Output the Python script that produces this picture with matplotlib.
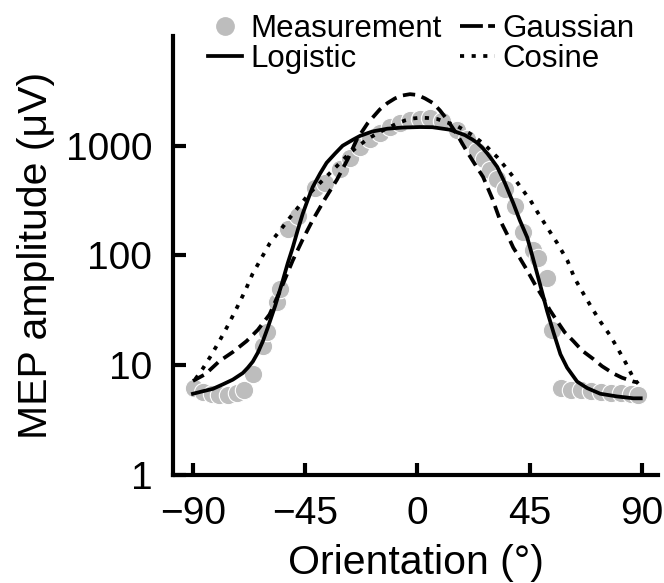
import matplotlib
matplotlib.use("Agg")
import matplotlib.pyplot as plt
from matplotlib.lines import Line2D

plt.rcParams['font.family'] = ['Liberation Sans', 'DejaVu Sans']

# measured MEP amplitudes (uV) vs coil orientation (deg)
meas_x = [-89.5, -86, -82.5, -79.5, -76, -72.5, -69.5, -66, -62, -60.5, -56.5, -55,
          -52, -48, -41, -37, -31, -27, -23, -19, -15, -11, -7, -3, 1,
          5, 10, 16, 20, 24, 26.5, 29, 32, 35, 39, 42.5, 46.5, 48.5, 52, 54,
          57.5, 61.5, 65.5, 69.5, 73.5, 77.5, 81.5, 85.5, 88.5]
meas_y = [6.2, 5.7, 5.5, 5.4, 5.4, 5.6, 6.0, 8.3, 15, 20, 38, 50,
          175, 230, 410, 460, 620, 780, 980, 1150, 1320, 1480, 1620, 1720, 1760,
          1800, 1680, 1400, 1150, 900, 750, 600, 500, 400, 280, 165, 112, 95, 63, 21,
          6.2, 6.0, 5.9, 5.8, 5.7, 5.6, 5.6, 5.5, 5.4]

# fitted curves
logi_x = [-90, -86, -82, -78, -74, -70, -68, -66, -64, -62, -60, -57, -54, -52, -50,
          -48, -46, -44, -42, -39, -36.4, -33, -30, -26, -23, -18, -12, -6, 1, 6,
          13, 19, 22, 24, 26, 28, 30, 32, 35, 38.4, 41, 44, 46, 48, 50, 52, 54.5,
          57.3, 60, 64, 68, 73.3, 80, 86.6, 89.5]
logi_y = [5.5, 5.8, 6.1, 6.7, 7.4, 8.5, 9.5, 10.8, 13, 16.5, 22, 35, 59, 85, 118,
          170, 240, 320, 420, 560, 700, 850, 1000, 1130, 1230, 1350, 1430, 1465, 1480, 1475,
          1400, 1250, 1140, 1060, 960, 850, 740, 640, 460, 300, 210, 146, 100, 68, 46, 31, 20,
          12.6, 9.5, 7.1, 6.2, 5.5, 5.2, 5.0, 5.0]

gaus_x = [-90, -85, -79.4, -74, -68.5, -64, -59.3, -55, -50, -46, -42, -37, -32.3,
          -28, -24.3, -20, -15.1, -12, -9, -6, -3, 0, 3, 6.2, 9, 11.9, 16, 19.9,
          23, 26.3, 30, 33.1, 36, 38.4, 41, 44, 47, 50.4, 53, 56.1, 59, 62.5, 66,
          70.5, 74, 78.6, 82, 86.6, 88]
gaus_y = [7.2, 8.3, 10.9, 13.2, 16.6, 21, 29, 48, 90, 140, 210, 330, 490,
          750, 1140, 1600, 2140, 2450, 2700, 2870, 2950, 2900, 2700, 2450, 2100, 1730, 1250, 880,
          680, 520, 330, 210, 155, 118, 95, 73, 55, 41, 32, 25, 20, 16.6, 13.6,
          11.4, 9.8, 8.4, 7.7, 7.1, 7.0]

cos_x = [-89, -86.2, -83, -79.4, -76, -72.5, -69, -66.1, -62.5, -59.3, -55, -51.2,
         -47, -43.2, -39, -35.2, -31, -27.1, -23.5, -20, -16, -12, -8, -5, -2, 1,
         4, 8, 11, 15, 18, 22, 27, 31.9, 35, 38.4, 42, 45.2, 48.5, 52, 56, 60.1,
         63, 66.5, 70, 73.3, 77, 80.2, 83.5, 86.6, 88.5]
cos_y = [7.5, 9.2, 12, 16.6, 23, 33, 48, 68, 95, 128, 170, 220,
         290, 370, 460, 560, 700, 860, 1000, 1150, 1300, 1450, 1600, 1700, 1770, 1800,
         1790, 1750, 1650, 1550, 1420, 1250, 1020, 790, 650, 520, 400, 320, 240, 180, 130, 90,
         62, 45, 33, 25, 19, 14.3, 10.5, 7.6, 6.8]

xticks = [-90, -45, 0, 45, 90]
yticks = [1, 10, 100, 1000]


def main():
	fig = plt.figure(figsize=(6.64, 5.83), dpi=100)
	ax = fig.add_axes([0.2605, 0.1852, 0.7304, 0.7531])

	lw = 2.7
	ax.scatter(meas_x, meas_y, s=175, c="#bdbdbd", edgecolors="white",
	           linewidths=0.8, zorder=1, clip_on=False)
	ax.plot(logi_x, logi_y, c="black", lw=lw, zorder=3)
	ax.plot(gaus_x, gaus_y, c="black", lw=lw, dashes=(3.3, 1.8), zorder=3)
	ax.plot(cos_x, cos_y, c="black", lw=lw, dashes=(1.1, 2.0), zorder=3)

	ax.set_yscale("log")
	ax.set_xlim(-98, 96.4)
	ax.set_ylim(1, 1e4)
	ax.set_xticks(xticks)
	ax.set_xticklabels(["\u2212%d" % -t if t < 0 else "%d" % t for t in xticks])
	ax.set_yticks(yticks)
	ax.set_yticklabels([str(t) for t in yticks])
	ax.minorticks_off()

	for s in ["top", "right"]:
		ax.spines[s].set_visible(False)
	for s in ["left", "bottom"]:
		ax.spines[s].set_linewidth(3.0)
	ax.tick_params(direction="in", length=9, width=3.0, labelsize=28, pad=15)

	ax.set_xlabel("Orientation (\u00b0)", fontsize=29.5, labelpad=9)
	ax.set_ylabel("MEP amplitude (\u03bcV)", fontsize=29.5, labelpad=8)

	# legend proxies (the legend shows its own dash snippets)
	handles = [
		Line2D([], [], ls="none", marker="o", ms=12.5, mfc="#bdbdbd", mec="#bdbdbd"),
		Line2D([], [], c="black", lw=lw),
		Line2D([], [], c="black", lw=lw, dashes=(6.1, 1.4)),
		Line2D([], [], c="black", lw=lw, dashes=(1.1, 2.0)),
	]
	labels = ["Measurement", "Logistic", "Gaussian", "Cosine"]
	fig.legend(handles, labels, loc="upper left", bbox_to_anchor=(208 / 664, 1 - 14 / 583),
	           ncol=2, frameon=False, fontsize=22.5, handlelength=1.1, handletextpad=0.25,
	           columnspacing=0.6, labelspacing=0.0, borderpad=0, borderaxespad=0)

	fig.savefig("out.png", dpi=100)


if __name__ == "__main__":
	main()
